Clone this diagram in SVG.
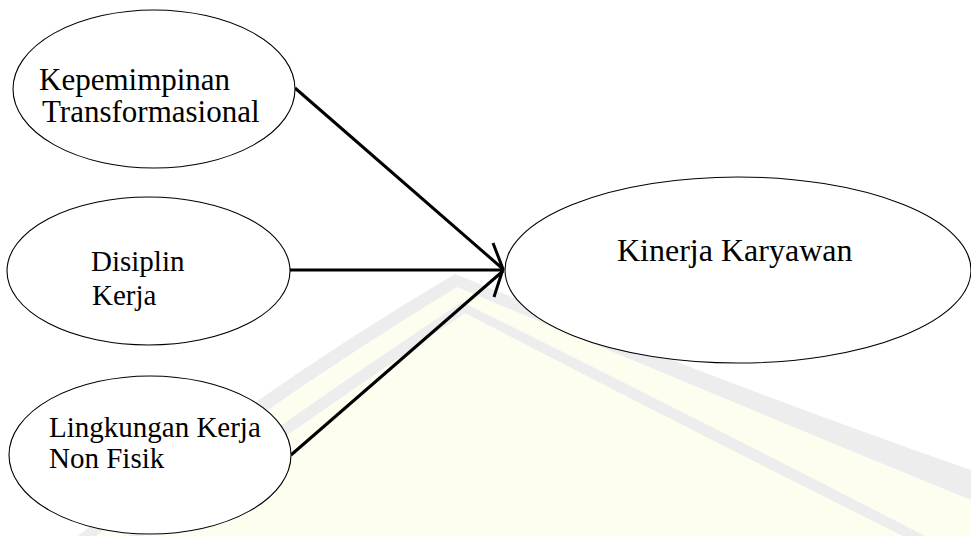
<svg xmlns="http://www.w3.org/2000/svg" width="971" height="536" viewBox="0 0 971 536">
  <style>
    .node { fill: #ffffff; stroke: #000000; stroke-width: 1.1; }
    .lbl { font-family: "Liberation Serif", "Times New Roman", serif; fill: #000000; }
    .big { font-size: 31px; }
    .kin { font-size: 32px; }
    .mid { font-size: 29px; }
    .conn { stroke: #000000; stroke-width: 3; fill: none; stroke-linecap: butt; }
    .wm-g { fill: #ededed; }
    .wm-y { fill: #fdfdf0; }
  </style>
  <rect x="0" y="0" width="971" height="536" fill="#ffffff"/>
  <g id="watermark">
    <path class="wm-g" d="M78,536 Q255,392 455,274 Q720,382 971,470 L971,536 Z"/>
    <path class="wm-y" d="M96,536 Q268,402 457,287 Q720,397 971,500 L971,536 Z"/>
    <path class="wm-g" d="M128,536 Q290,416 462,302 Q700,420 925,536 Z"/>
    <path class="wm-y" d="M143,536 Q300,425 465,313 Q690,430 903,536 Z"/>
  </g>
  <g id="connectors">
    <line class="conn" x1="295" y1="88" x2="503" y2="269"/>
    <line class="conn" x1="290" y1="270" x2="503" y2="270"/>
    <line class="conn" x1="291" y1="455" x2="503" y2="271"/>
    <path class="conn" d="M493,243 L503,269 L494,297"/>
  </g>
  <g id="node-kepemimpinan">
    <ellipse class="node" cx="154" cy="89" rx="141" ry="79"/>
    <text class="lbl big" x="39" y="90">Kepemimpinan</text>
    <text class="lbl big" x="42" y="122">Transformasional</text>
  </g>
  <g id="node-disiplin">
    <ellipse class="node" cx="148.5" cy="271" rx="141.5" ry="74"/>
    <text class="lbl mid" x="91" y="271">Disiplin</text>
    <text class="lbl mid" x="92" y="305">Kerja</text>
  </g>
  <g id="node-lingkungan">
    <ellipse class="node" cx="150" cy="455" rx="141" ry="79"/>
    <text class="lbl mid" x="49" y="437">Lingkungan Kerja</text>
    <text class="lbl mid" x="49" y="468">Non Fisik</text>
  </g>
  <g id="node-kinerja">
    <ellipse class="node" cx="738" cy="270" rx="233" ry="93"/>
    <text class="lbl kin" x="617" y="261">Kinerja Karyawan</text>
  </g>
</svg>
